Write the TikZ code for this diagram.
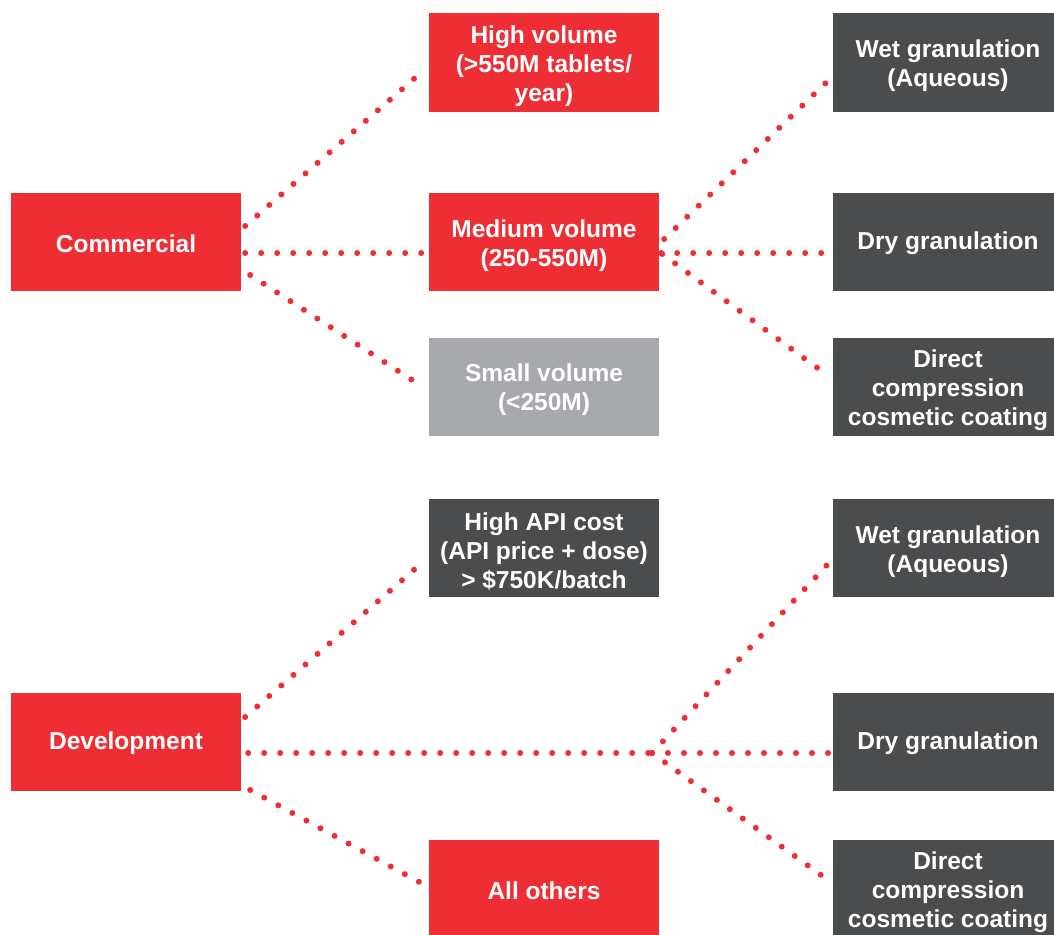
\documentclass[tikz,border=0pt]{standalone}
\usepackage{fontspec}
\setmainfont{Liberation Sans}
\usetikzlibrary{positioning, calc}
\definecolor{brandred}{HTML}{EE2E34}
\definecolor{darkgrey}{HTML}{4B4C4E}
\definecolor{lightgrey}{HTML}{A7A9AC}
\newcommand{\toprule}{\rule{0pt}{25pt}}

\begin{document}
\begin{tikzpicture}
            [x=1pt, y=-1pt,
            box/.style={rectangle, minimum width=230pt, minimum height=98pt, inner sep=0pt, align=center, text=white, font=\fontsize{24.5}{29}\selectfont\bfseries, execute at begin node={\rule{0pt}{20.5pt}}},
            redbox/.style={box, fill=brandred},
            darkbox/.style={box, fill=darkgrey},
            greybox/.style={box, fill=lightgrey},
            link/.style={draw=brandred, line width=6pt, line cap=round, dash pattern=on 0pt off 16pt}]
            \useasboundingbox (0,0) rectangle (1054,934);
            \clip (0,0) rectangle (1054,934);
            \node[redbox]   (comm)    at (126,242)   {Commercial};
            \node[redbox]   (dev)     at (126,742)   {Development};
            \node[redbox]   (high)    at (544,62.5)  {\toprule High volume \\ (>550M tablets/ \\ year)};
            \node[redbox]   (med)     at (544,242)   {\toprule Medium volume \\ (250-550M)};
            \node[greybox]  (small)   at (544,386.5) {\toprule Small volume \\ (<250M)};
            \node[darkbox]  (api)     at (544,548)   {\toprule High API cost \\ (API price + dose) \\ > \$750K/batch};
            \node[redbox]   (others)  at (544,889)   {All others};
            \node[darkbox]  (wetA)    at (948,62.5)  {\toprule Wet granulation \\ (Aqueous)};
            \node[darkbox]  (dryA)    at (948,242)   {Dry granulation};
            \node[darkbox]  (directA) at (948,386.5) {\toprule Direct \\ compression \\ cosmetic coating};
            \node[darkbox]  (wetB)    at (948,548)   {\toprule Wet granulation \\ (Aqueous)};
            \node[darkbox]  (dryB)    at (948,742)   {Dry granulation};
            \node[darkbox]  (directB) at (948,889)   {\toprule Direct \\ compression \\ cosmetic coating};
            \coordinate (split) at (652,753);

            \draw[link] ([xshift=4pt,yshift=16pt]comm.east)  -- ([xshift=-7pt,yshift=-9.5pt]high.west);
            \draw[link] ([xshift=4pt,yshift=-11pt]comm.east) -- ([xshift=-4pt,yshift=-11pt]med.west);
            \draw[link] ([xshift=9pt,yshift=-33pt]comm.east) -- ([xshift=-9pt,yshift=1.5pt]small.west);

            \draw[link] ([xshift=5pt,yshift=3pt]med.east)    -- ([xshift=-4pt,yshift=-17.5pt]wetA.west);
            \draw[link] ([xshift=2pt,yshift=-11pt]med.east)  -- ([xshift=-3pt,yshift=-11pt]dryA.west);
            \draw[link] ([xshift=3pt,yshift=-12pt]med.east)  -- ([xshift=-3pt,yshift=9.5pt]directA.west);

            \draw[link] ([xshift=4pt,yshift=25pt]dev.east)   -- ([xshift=-7pt,yshift=-15pt]api.west);
            \draw[link] ([xshift=7pt,yshift=-11pt]dev.east)  -- (split);
            \draw[link] ([xshift=9pt,yshift=-48pt]dev.east)  -- ([xshift=-4pt,yshift=4pt]others.west);

            \draw[link] (split) -- ([xshift=-4pt,yshift=-15pt]wetB.west);
            \draw[link] (split) -- ([xshift=-3pt,yshift=-11pt]dryB.west);
            \draw[link] (split) -- ([xshift=-2pt,yshift=7pt]directB.west);
        \end{tikzpicture}
\end{document}
